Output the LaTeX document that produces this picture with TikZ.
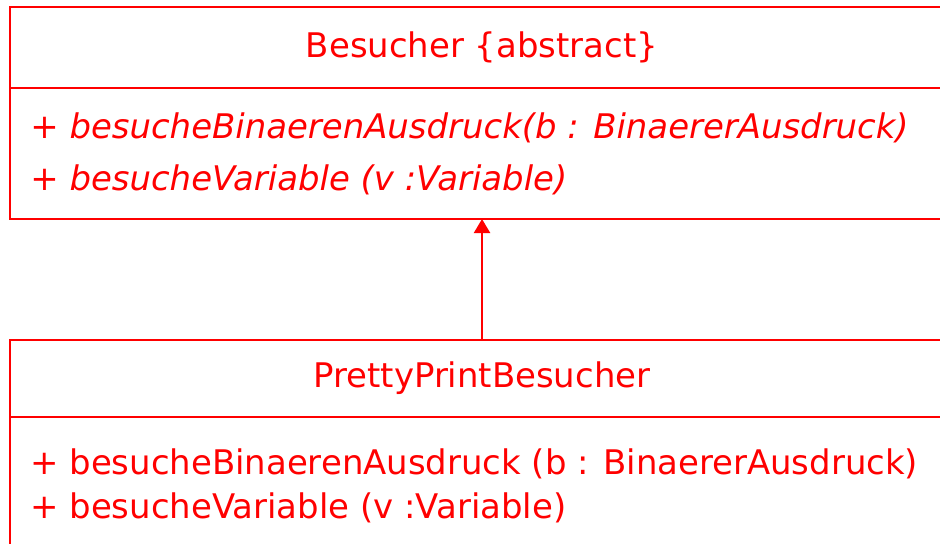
\documentclass[tikz,border=0pt]{standalone}
\usepackage{fontspec}
\newfontfamily\umlfont{DejaVu Sans}
\usepackage{tikz}
\usetikzlibrary{positioning, arrows.meta}
\definecolor{umlred}{HTML}{FF0000}
\tikzset{
	classpart/.style={draw=umlred, line width=0.45mm, rectangle, inner sep=0pt, outer sep=0pt,
			minimum width=188.8mm, anchor=north west, text=umlred,
			font=\umlfont\fontsize{19.3pt}{23pt}\selectfont}
}
\tikzset{
	optext/.style={anchor=base west, inner sep=0pt, text=umlred,
			font=\umlfont\fontsize{19.3pt}{23pt}\selectfont}
}
\tikzset{
	extends/.style={draw=umlred, line width=0.45mm, -{Triangle[length=2.8mm, width=3.2mm]}}
}

\begin{document}
\begin{tikzpicture}[x=0.2mm, y=-0.2mm]

	\useasboundingbox (0,0) rectangle (940,543);
	\clip (0,0) rectangle (940,543);

	% abstract visitor
	\begin{scope}
		\node[classpart, minimum height=16.2mm] (besHead) at (10,7) {Besucher \{abstract\}};
		\node[classpart, minimum height=26.2mm] (besOps) at (besHead.south west) {};
		\node[optext] (besOpA) at (30,138) {\itshape + besucheBinaerenAusdruck(b : BinaererAusdruck)};
		\node[optext] (besOpB) at (30,190) {\itshape + besucheVariable (v :Variable)};
	\end{scope}

	% concrete visitor
	\begin{scope}
		\node[classpart, minimum height=15.4mm] (ppbHead) at (10,340) {PrettyPrintBesucher};
		\node[classpart, minimum height=30mm] (ppbOps) at (ppbHead.south west) {};
		\node[optext] (ppbOpA) at (30,474) {+ besucheBinaerenAusdruck (b : BinaererAusdruck)};
		\node[optext] (ppbOpB) at (30,518) {+ besucheVariable (v :Variable)};
	\end{scope}

	\draw[extends] (ppbHead.north) -- (besOps.south);

\end{tikzpicture}
\end{document}
